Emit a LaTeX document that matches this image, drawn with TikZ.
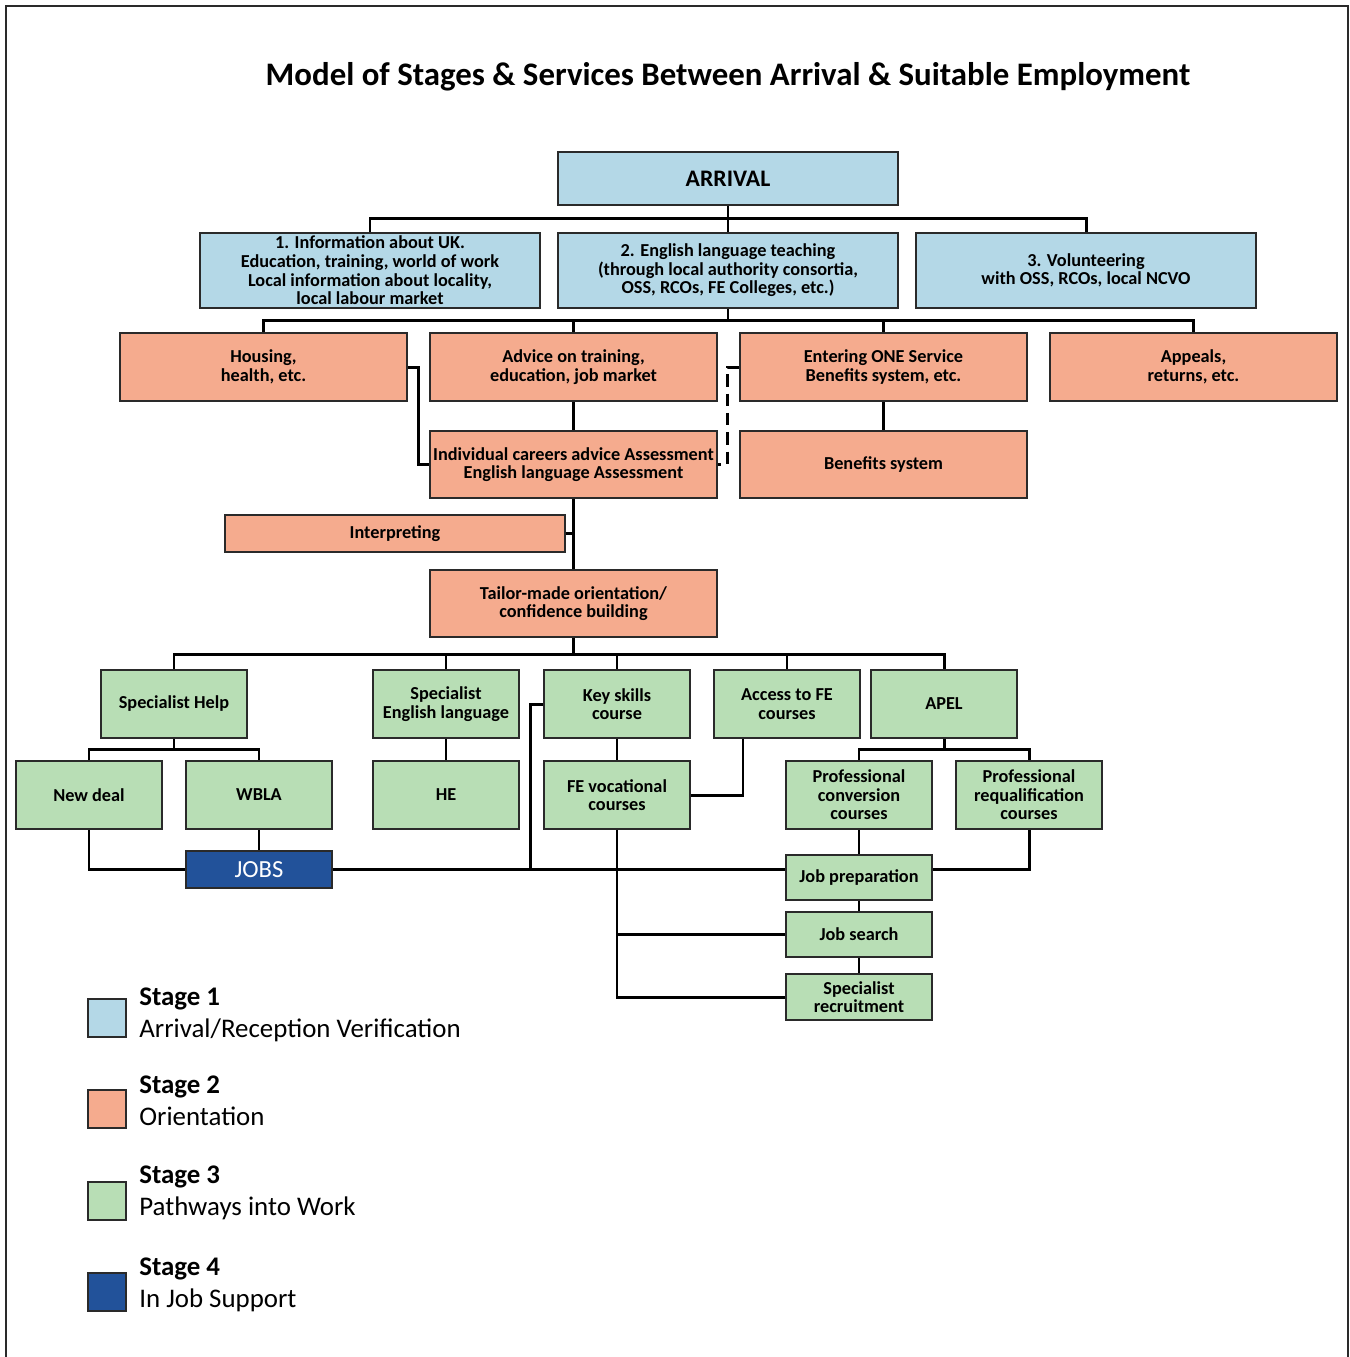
\documentclass[tikz,border=0pt]{standalone}
\usepackage{fontspec}
\setmainfont{Carlito}
\usetikzlibrary{calc}
\definecolor{sOne}{HTML}{B4D8E7}
\definecolor{sTwo}{HTML}{F5AB8E}
\definecolor{sThree}{HTML}{B8DEB5}
\definecolor{sFour}{HTML}{22529A}
\definecolor{edge}{HTML}{2A2A2A}
\tikzset{
  wh/.style 2 args={minimum width=#1*0.02cm, minimum height=#2*0.02cm},
  box/.style={draw=edge, line width=1.1pt, inner sep=0pt, align=center, font=\fontsize{10.4}{10.6}\selectfont\bfseries},
  bone/.style={box, fill=sOne},
  btwo/.style={box, fill=sTwo},
  bthree/.style={box, fill=sThree},
  bfour/.style={box, fill=sFour, text=white},
  conn/.style={line width=1.7pt, draw=black},
  lgsq/.style={draw=edge, line width=1.1pt, minimum width=38*0.02cm, minimum height=38*0.02cm, inner sep=0pt},
  lgtxt/.style={anchor=base west, inner sep=0pt, font=\fontsize{15.3}{18}\selectfont},
  lghead/.style={lgtxt, font=\fontsize{15.3}{18}\selectfont\bfseries},
}
\begin{document}
\begin{tikzpicture}[x=0.02cm,y=-0.02cm]
\useasboundingbox (0,0) rectangle (1350,1357);
\draw[line width=1.1pt, draw=edge] (6,1357) -- (6,6) -- (1348,6) -- (1348,1357);

\node[anchor=base, inner sep=0pt, font=\fontsize{18.7}{21}\selectfont\bfseries] (title) at (728,85) {Model of Stages \& Services Between Arrival \& Suitable Employment};

% Stage 1
\node[bone, wh={340}{53}, font=\fontsize{13.5}{15}\selectfont\bfseries] (arrival) at (728,178.5) {ARRIVAL};
\node[bone, wh={340}{75}] (info) at (370,270.5) {1. Information about UK.\\Education, training, world of work\\Local information about locality,\\local labour market};
\node[bone, wh={340}{75}] (eng) at (728,270.5) {2. English language teaching\\(through local authority consortia,\\OSS, RCOs, FE Colleges, etc.)};
\node[bone, wh={340}{75}] (vol) at (1086,270.5) {3. Volunteering\\with OSS, RCOs, local NCVO};

% Stage 2
\node[btwo, wh={287}{68}] (housing) at (263.5,367) {Housing,\\health, etc.};
\node[btwo, wh={287}{68}] (advice) at (573.5,367) {Advice on training,\\education, job market};
\node[btwo, wh={287}{68}] (entering) at (883.5,367) {Entering ONE Service\\Benefits system, etc.};
\node[btwo, wh={287}{68}] (appeals) at (1193.5,367) {Appeals,\\returns, etc.};
\node[btwo, wh={287}{67}] (indiv) at (573.5,464.5) {Individual careers advice Assessment\\English language Assessment};
\node[btwo, wh={287}{67}] (benefits) at (883.5,464.5) {Benefits system};
\node[btwo, wh={340}{37}] (interp) at (395,533.5) {Interpreting};
\node[btwo, wh={287}{67}] (tailor) at (573.5,603.5) {Tailor-made orientation/\\confidence building};

% Stage 3
\node[bthree, wh={146}{68}] (spechelp) at (174,704) {Specialist Help};
\node[bthree, wh={146}{68}] (speceng) at (446,704) {Specialist\\English language};
\node[bthree, wh={146}{68}] (keyskills) at (617,704) {Key skills\\course};
\node[bthree, wh={146}{68}] (access) at (787,704) {Access to FE\\courses};
\node[bthree, wh={146}{68}] (apel) at (944,704) {APEL};
\node[bthree, wh={146}{68}] (newdeal) at (89,795) {New deal};
\node[bthree, wh={146}{68}] (wbla) at (259,795) {WBLA};
\node[bthree, wh={146}{68}] (he) at (446,795) {HE};
\node[bthree, wh={146}{68}] (fevoc) at (617,795) {FE vocational\\courses};
\node[bthree, wh={146}{68}] (profconv) at (859,795) {Professional\\conversion\\courses};
\node[bthree, wh={146}{68}] (profreq) at (1029,795) {Professional\\requalification\\courses};
\node[bthree, wh={146}{45}] (jobprep) at (859,877.5) {Job preparation};
\node[bthree, wh={146}{45}] (jobsearch) at (859,934.5) {Job search};
\node[bthree, wh={146}{46}] (specrec) at (859,997) {Specialist\\recruitment};

% Stage 4
\node[bfour, wh={146}{37}, font=\fontsize{14}{15}\selectfont] (jobs) at (259,869.5) {JOBS};

% connectors
\draw[conn] (info.north) -- (info.north |- 0,218) -| (vol.north);
\draw[conn] (arrival.south) -- (eng.north);
\draw[conn] (housing.north) -- (housing.north |- 0,320) -| (appeals.north);
\draw[conn] (eng.south) -- (eng.south |- 0,320);
\draw[conn] (advice.north) -- (advice.north |- 0,320);
\draw[conn] (entering.north) -- (entering.north |- 0,320);
\draw[conn] (housing.east) -- ++(11,0) |- (indiv.west);
\draw[conn, dash pattern=on 7pt off 4pt] (entering.west) -- ++(-12,0) |- (indiv.east);
\draw[conn] (advice.south) -- (indiv.north);
\draw[conn] (entering.south) -- (benefits.north);
\draw[conn] (indiv.south) -- (tailor.north);
\draw[conn] (interp.east) -- (interp.east -| indiv.south);

\draw[conn] (spechelp.north) -- (spechelp.north |- 0,654) -| (apel.north);
\draw[conn] (tailor.south) -- (tailor.south |- 0,654);
\draw[conn] (speceng.north) -- (speceng.north |- 0,654);
\draw[conn] (keyskills.north) -- (keyskills.north |- 0,654);
\draw[conn] (access.north) -- (access.north |- 0,654);

\draw[conn] (newdeal.north) -- (newdeal.north |- 0,749) -| (wbla.north);
\draw[conn] (spechelp.south) -- (spechelp.south |- 0,749);
\draw[conn] (speceng.south) -- (he.north);
\draw[conn] (keyskills.south) -- (fevoc.north);
\draw[conn] ($(access.south)+(-44,0)$) |- (fevoc.east);
\draw[conn] (profconv.north) -- (profconv.north |- 0,749) -| (profreq.north);
\draw[conn] (apel.south) -- (apel.south |- 0,749);

\draw[conn] (wbla.south) -- (jobs.north);
\draw[conn] (newdeal.south) |- (jobs.west);
\draw[conn] (jobs.east) -- (jobs.east -| jobprep.west);
\draw[conn] (keyskills.west) -- ++(-13,0) coordinate (k1) -- (k1 |- jobs.east);
\draw[conn] (fevoc.south) |- (specrec.west);
\draw[conn] (fevoc.south |- jobsearch.west) -- (jobsearch.west);
\draw[conn] (profconv.south) -- (jobprep.north);
\draw[conn] (profreq.south) |- (jobprep.east |- jobs.east);
\draw[conn] (jobprep.south) -- (jobsearch.north);
\draw[conn] (jobsearch.south) -- (specrec.north);

% legend
\node[lgsq, fill=sOne] (lg1) at (107,1018) {};
\node[lgsq, fill=sTwo] (lg2) at (107,1109) {};
\node[lgsq, fill=sThree] (lg3) at (107,1201) {};
\node[lgsq, fill=sFour] (lg4) at (107,1292) {};
\node[lghead] (lt1a) at (139,1005) {Stage 1};
\node[lgtxt] (lt1b) at (139,1037) {Arrival/Reception Verification};
\node[lghead] (lt2a) at (139,1093) {Stage 2};
\node[lgtxt] (lt2b) at (139,1125) {Orientation};
\node[lghead] (lt3a) at (139,1183) {Stage 3};
\node[lgtxt] (lt3b) at (139,1215) {Pathways into Work};
\node[lghead] (lt4a) at (139,1275) {Stage 4};
\node[lgtxt] (lt4b) at (139,1307) {In Job Support};
\end{tikzpicture}
\end{document}
